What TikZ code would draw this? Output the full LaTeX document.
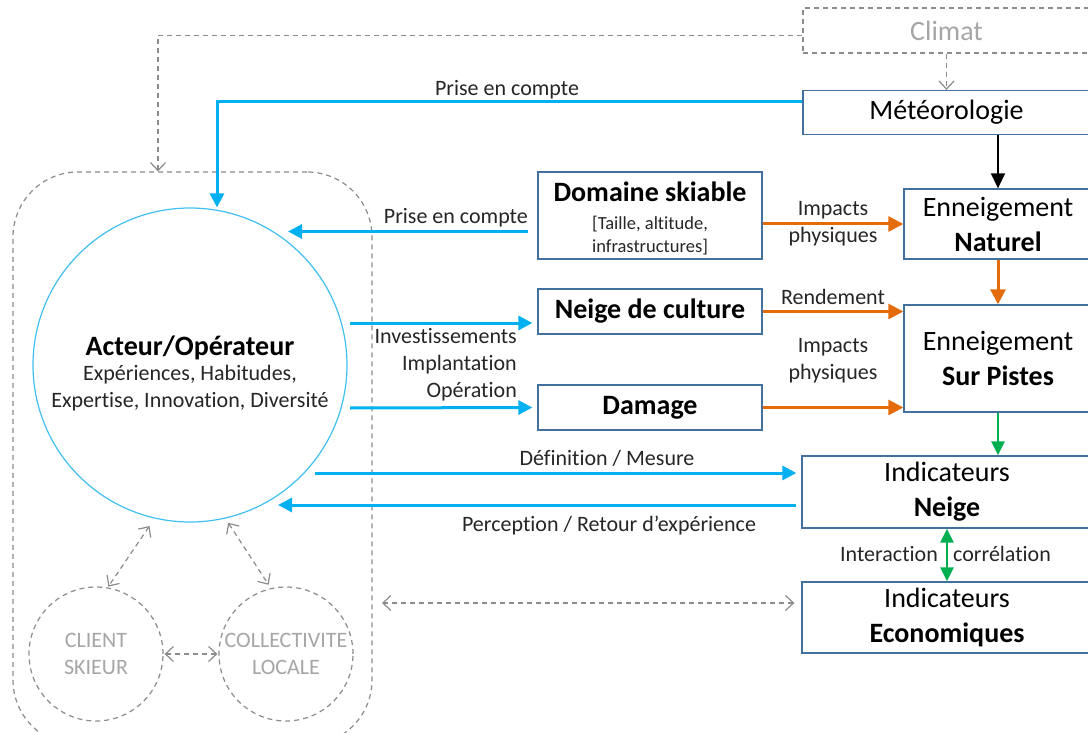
\documentclass[tikz,border=0pt]{standalone}
\usepackage{fontspec}
\setmainfont{Carlito}[Ligatures=NoCommon]
\usetikzlibrary{arrows.meta,calc}
\definecolor{skyblue}{HTML}{00B0F0}
\definecolor{circblue}{HTML}{3FC0F0}
\definecolor{orng}{HTML}{E46C0A}
\definecolor{grn}{HTML}{00B050}
\definecolor{boxblue}{HTML}{41719C}
\definecolor{lgray}{HTML}{A6A6A6}
\definecolor{dashgray}{HTML}{8C8C8C}
\definecolor{txt}{HTML}{262626}
\tikzset{
  box/.style={draw=boxblue, line width=1.3pt, fill=white, inner sep=0pt, align=center, text=black, font=\fontsize{28}{35}\selectfont},
  dbox/.style={draw=dashgray, dashed, dash pattern=on 5pt off 4pt, line width=1.2pt, inner sep=0pt, text=lgray, font=\fontsize{28}{35}\selectfont},
  lbl/.style={font=\fontsize{22}{27}\selectfont, text=txt, inner sep=0pt},
  blueArr/.style={draw=skyblue, line width=3pt, -{Triangle[length=14pt,width=14pt]}},
  orArr/.style={draw=orng, line width=3pt, -{Triangle[length=15pt,width=15pt]}},
  grayDash/.style={draw=dashgray, dash pattern=on 5pt off 4pt, line width=1.2pt},
  barb/.tip={Straight Barb[length=8pt,width=15pt,line width=1.2pt]},
  grayDA/.style={grayDash, barb-barb},
  grayA/.style={grayDash, -barb},
  dcirc/.style={circle, draw=dashgray, dash pattern=on 5pt off 4pt, line width=1.2pt, minimum size=134pt, inner sep=0pt, text=lgray, align=center, font=\fontsize{22}{27}\selectfont}
}
\begin{document}
\begin{tikzpicture}[x=1pt,y=-1pt]
\useasboundingbox (0,0) rectangle (1088,733);
\fill[white] (0,0) rectangle (1088,733);

% group
\node[draw=dashgray, dash pattern=on 5pt off 4pt, line width=1.2pt, rounded corners=65pt, minimum width=359pt, minimum height=573pt, inner sep=0pt] (group) at (192.5,458.5) {};

% right column boxes
\node[dbox, minimum width=287pt, minimum height=45pt] (climat) at (946.5,30.5) {Climat};
\node[box, minimum width=287pt, minimum height=44pt] (meteo) at (946.5,112.5) {Météorologie};
\node[box, minimum width=188pt, minimum height=70pt] (naturel) at (998,224) {Enneigement\\\textbf{Naturel}};
\node[box, minimum width=188pt, minimum height=107pt] (pistes) at (998,358.5) {Enneigement\\\textbf{Sur Pistes}};
\node[box, minimum width=290pt, minimum height=72pt] (neige) at (947,492) {Indicateurs\\\textbf{Neige}};
\node[box, minimum width=290pt, minimum height=71pt] (eco) at (947,617.5) {Indicateurs\\\textbf{Economiques}};

% middle boxes
\node[box, minimum width=224pt, minimum height=87pt] (domaine) at (650,215.5) {};
\node[align=center, inner sep=0pt, text=black, font=\fontsize{28}{35}\selectfont] (domtxt) at (650,218.5) {\textbf{Domaine skiable}\\[-7pt]{\fontsize{18.5}{21}\selectfont\color{txt}[Taille, altitude,}\\[-12pt]{\fontsize{18.5}{21}\selectfont\color{txt}infrastructures]}};
\node[box, minimum width=224pt, minimum height=45pt] (culture) at (650,311.5) {\textbf{Neige de culture}};
\node[box, minimum width=224pt, minimum height=45pt] (damage) at (650,407.5) {\textbf{Damage}};

% actor circle
\node[circle, draw=circblue, line width=1.2pt, minimum size=314pt, inner sep=0pt] (acteur) at (190,365) {};
\node[align=center, inner sep=0pt, text=txt, font=\fontsize{22}{27}\selectfont] (acteurtxt) at (190,373) {{\fontsize{28}{30}\selectfont\bfseries\color{black}Acteur/Opérateur}\\[-2pt]Expériences, Habitudes,\\Expertise, Innovation, Diversité};

% stakeholder circles
\node[dcirc] (client) at (96,654) {CLIENT\\SKIEUR};
\node[dcirc] (collect) at (286,654) {COLLECTIVITE\\LOCALE};

% coordinates near the actor circle
\coordinate (acA) at (288,231.5);
\coordinate (acB) at (278,505);
\coordinate (dashL) at (382,603);

% dashed links
\draw[grayA] ([yshift=-5pt]climat.west) -| ([xshift=-34.5pt]group.north);
\draw[grayA] (climat.south) -- (meteo.north);
\draw[grayDA, shorten <=9pt, shorten >=1pt] (acteur.257) -- (client.80);
\draw[grayDA, shorten <=5pt, shorten >=4pt] (acteur.283) -- (collect.103);
\draw[grayDA, shorten <=1pt, shorten >=1pt] (client.east) -- (collect.west);
\draw[grayDA] (dashL) -- ([xshift=-7pt,yshift=14.5pt]eco.west);

% blue links
\draw[blueArr] ([yshift=10.5pt]meteo.west) -| ([xshift=27pt]acteur.north);
\node[lbl, anchor=base] (lPEC1) at (507,96) {Prise en compte};
\draw[blueArr] ([xshift=-9pt,yshift=-16pt]domaine.west) -- (acA);
\node[lbl, anchor=base east] (lPEC2) at (528,223) {Prise en compte};
\draw[blueArr] ([xshift=160pt,yshift=42pt]acteur.center) -- ([xshift=-5pt,yshift=-11.5pt]culture.west);
\draw[blueArr] ([xshift=160pt,yshift=-43pt]acteur.center) -- ([xshift=-5pt]damage.west);
\node[lbl, align=right, anchor=east] (lInv) at (517,365) {Investissements\\Implantation\\Opération};
\draw[blueArr] ([xshift=125pt,yshift=-108pt]acteur.center) -- ([xshift=-5pt,yshift=19pt]neige.west);
\node[lbl, anchor=base] (lDef) at (607,465) {Définition / Mesure};
\draw[blueArr] ([xshift=-5pt,yshift=-13pt]neige.west) -- (acB);
\node[lbl, anchor=base] (lPer) at (609,531) {Perception / Retour d’expérience};

% orange links
\draw[orArr] (domaine.east |- naturel.west) -- (naturel.west);
\node[lbl, align=center] (lImp1) at (833,224) {Impacts\\physiques};
\draw[orArr] (culture.east) -- (culture.east -| pistes.west);
\node[lbl, anchor=base] (lRen) at (833,304) {Rendement};
\draw[orArr] (damage.east) -- (damage.east -| pistes.west);
\node[lbl, align=center] (lImp2) at (833,361) {Impacts\\physiques};
\draw[orArr] (naturel.south) -- (pistes.north);

% black link
\draw[line width=1.5pt, -{Triangle[length=15pt,width=14pt]}] (meteo.south -| naturel.north) -- (naturel.north);

% green links
\draw[draw=grn, line width=2.5pt, -{Triangle[length=14pt,width=13pt]}] (pistes.south) -- (pistes.south |- neige.north);
\draw[draw=grn, line width=2.5pt, {Triangle[length=14pt,width=13pt]}-{Triangle[length=14pt,width=13pt]}] (neige.south) -- (eco.north);
\node[lbl, anchor=base east] (lInt) at (938,561) {Interaction};
\node[lbl, anchor=base west] (lCor) at (953,561) {corrélation};
\end{tikzpicture}
\end{document}
